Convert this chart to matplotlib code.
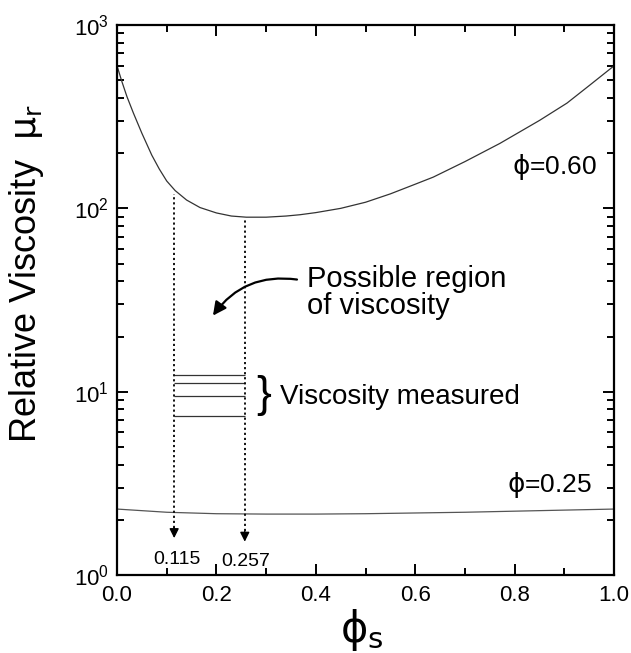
import numpy as np
import matplotlib
matplotlib.use("Agg")
import matplotlib.pyplot as plt
from matplotlib.ticker import FuncFormatter, LogLocator, MultipleLocator

plt.rcParams['font.family'] = ['Liberation Sans', 'DejaVu Sans']
plt.rcParams['mathtext.fontset'] = 'dejavusans'

# phi = 0.60 curve
phi_s_60 = [0.0, 0.01, 0.02, 0.033, 0.05, 0.07, 0.085, 0.1, 0.117, 0.14,
            0.167, 0.2, 0.23, 0.26, 0.3, 0.34, 0.368, 0.4, 0.45, 0.5,
            0.55, 0.6, 0.636, 0.7, 0.77, 0.85, 0.905, 0.95, 1.0]
mu_60 = [600, 490, 407, 331, 257, 195, 164, 141, 125, 111,
         101, 94.4, 90.8, 89.5, 89.5, 90.8, 92.3, 94.8, 100, 108,
         120, 135.5, 148, 180, 226, 302, 375, 468, 600]

# phi = 0.25 curve
phi_s_25 = [0.0, 0.1, 0.2, 0.3, 0.4, 0.5, 0.6, 0.7, 0.8, 0.9, 1.0]
mu_25 = [2.29, 2.2, 2.16, 2.15, 2.15, 2.16, 2.18, 2.2, 2.23, 2.26, 2.29]

# measured viscosities, drawn between the two limits
phi_lo, phi_hi = 0.115, 0.257
mu_lo_curve, mu_hi_curve = 126, 89.5
mu_measured = [12.4, 11.15, 9.5, 7.33]

fig = plt.figure(figsize=(6.31, 6.53), dpi=100)
ax = fig.add_axes([0.1854, 0.1194, 0.788, 0.8423])

ax.plot(phi_s_60, mu_60, color='#333333', lw=0.9)
ax.plot(phi_s_25, mu_25, color='#555555', lw=0.9)
ax.hlines(mu_measured, phi_lo, phi_hi, color='#333333', lw=0.9)

# dotted drop lines with arrow heads
for xv, ytop, ytip in [(phi_lo, mu_lo_curve * 0.95, 1.59), (phi_hi, mu_hi_curve * 0.96, 1.52)]:
    ax.vlines(xv, ytip * 1.14, ytop, colors='k', linestyles=(0, (1.2, 1.6)), lw=1.3)
    ax.annotate('', xy=(xv, ytip), xytext=(xv, ytip * 1.14),
                arrowprops=dict(arrowstyle='-|>', color='k', lw=1,
                                mutation_scale=14, shrinkA=0, shrinkB=0))

ax.text(0.121, 1.21, '0.115', fontsize=14, ha='center', va='center')
ax.text(0.259, 1.19, '0.257', fontsize=14, ha='center', va='center')

ax.annotate('', xy=(0.193, 26), xytext=(0.362, 40.9),
            arrowprops=dict(arrowstyle='-|>', color='k', lw=1.6,
                            connectionstyle='arc3,rad=0.3',
                            mutation_scale=20, shrinkA=0, shrinkB=0))
ax.text(0.382, 34.8, 'Possible region\nof viscosity', fontsize=21,
        ha='left', va='center', linespacing=0.95)

ax.text(0.296, 9.5, '}', fontsize=32, ha='center', va='center')
ax.text(0.328, 9.4, 'Viscosity measured', fontsize=20, ha='left', va='center')

ax.text(0.795, 168, r'$\mathrm{\phi}$=0.60', fontsize=19, ha='left', va='center')
ax.text(0.785, 3.1, r'$\mathrm{\phi}$=0.25', fontsize=19, ha='left', va='center')

ax.set_yscale('log')
ax.set_xlim(0, 1)
ax.set_ylim(1, 1000)
ax.xaxis.set_major_locator(MultipleLocator(0.2))
ax.xaxis.set_minor_locator(MultipleLocator(0.1))
ax.yaxis.set_major_locator(LogLocator(base=10))
ax.yaxis.set_minor_locator(LogLocator(base=10, subs=np.arange(2, 10)))
ax.yaxis.set_major_formatter(FuncFormatter(lambda v, p: r'$\mathregular{10^{%d}}$' % round(np.log10(v))))
ax.xaxis.set_major_formatter(FuncFormatter(lambda v, p: '%.1f' % v))

ax.tick_params(which='both', direction='in', top=True, right=True,
               labelsize=16, width=1.4)
ax.tick_params(which='major', length=8)
ax.tick_params(which='minor', length=5)
ax.tick_params(axis='x', pad=7)
ax.tick_params(axis='y', pad=6)
for s in ax.spines.values():
    s.set_linewidth(1.6)

fig.text(362 / 631, 1 - 630 / 653, r'$\mathrm{\phi}_\mathrm{s}$', fontsize=30,
         ha='center', va='center')
fig.text(27 / 631, 1 - 274 / 653, r'Relative Viscosity  $\mathrm{\mu_r}$', fontsize=26,
         rotation=90, ha='center', va='center')

fig.savefig('out.png', dpi=100)
